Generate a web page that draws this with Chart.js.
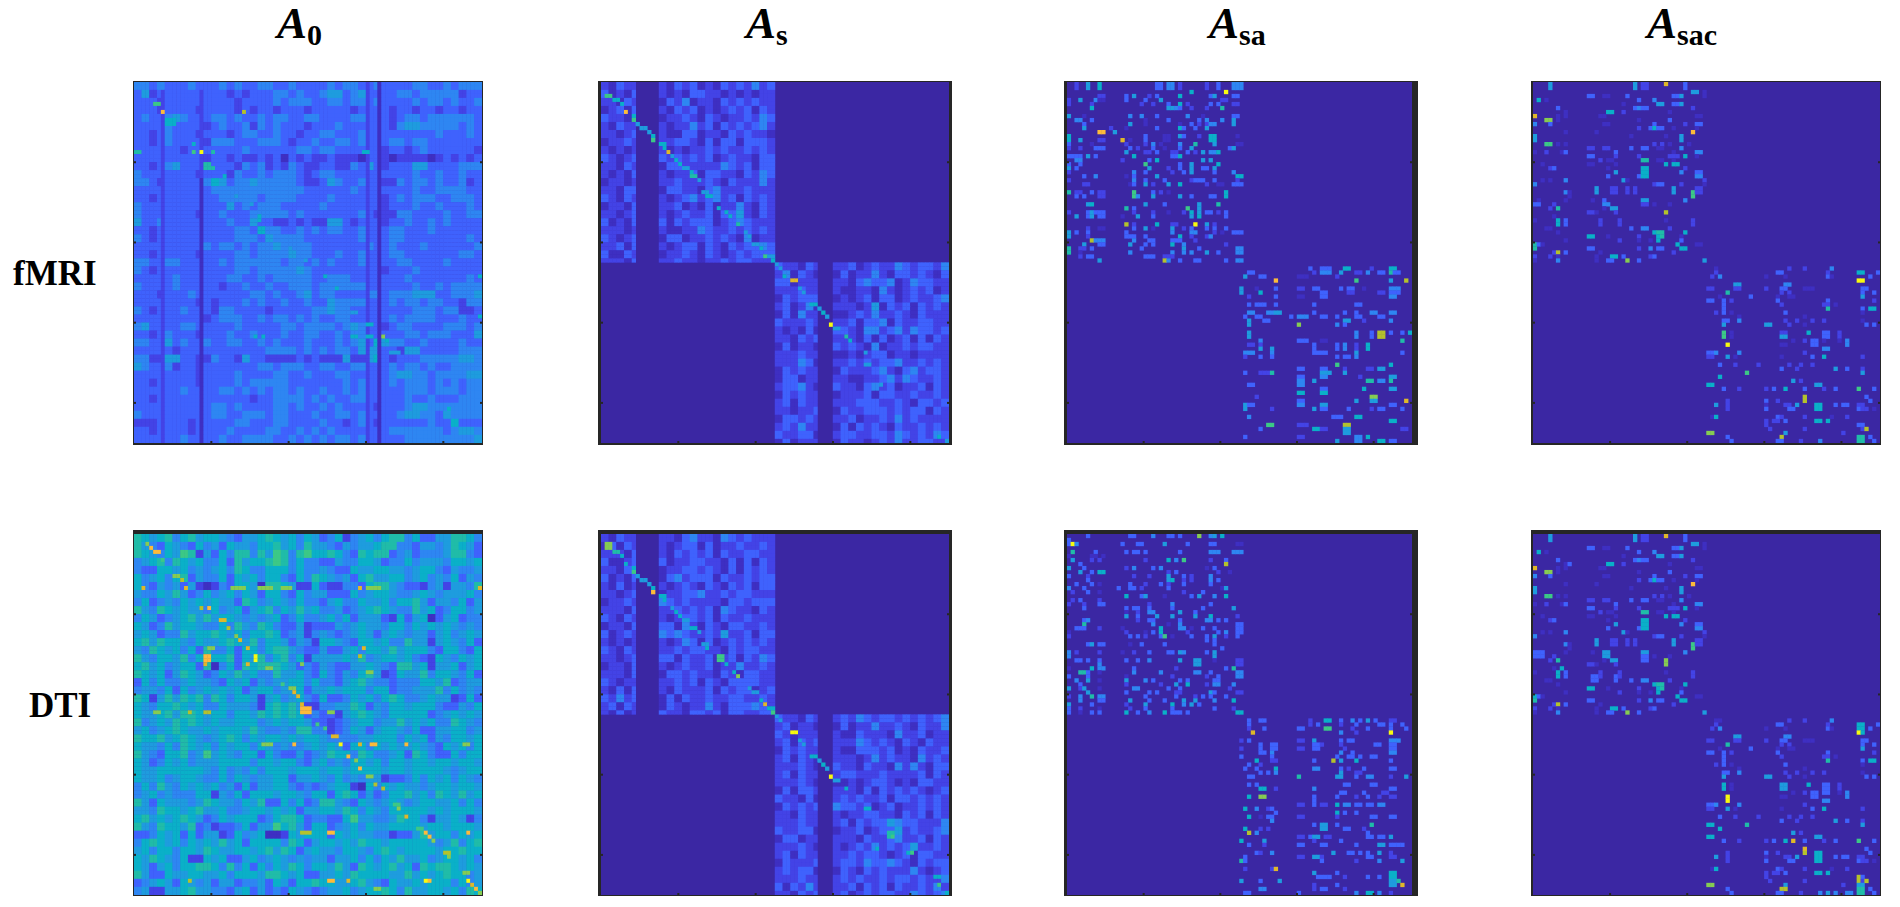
<!DOCTYPE html>
<html>
<head>
<meta charset="utf-8">
<title>Adjacency matrices</title>
<script src="https://cdn.jsdelivr.net/npm/chart.js@4"></script>
<style>
  html, body { margin: 0; background: #fff; }
  body { position: relative; width: 1900px; height: 907px; overflow: hidden; font-family: "Liberation Serif", serif; color: #000; }
  .panel { position: absolute; }
  .panel canvas { display: block; }
  .title { position: absolute; top: 1px; font-size: 45px; line-height: 45px; font-weight: bold; font-style: italic; white-space: nowrap; }
  .title span { font-size: 30px; font-style: normal; position: relative; top: 7px; }
  .side { position: absolute; font-size: 35px; line-height: 35px; font-weight: bold; white-space: nowrap; }
</style>
</head>
<body>
<div class="title" style="left:277px">A<span>0</span></div>
<div class="title" style="left:746px">A<span>s</span></div>
<div class="title" style="left:1209px">A<span>sa</span></div>
<div class="title" style="left:1647px">A<span>sac</span></div>
<div class="side" style="left:13px;top:256px">fMRI</div>
<div class="side" style="left:29px;top:688px">DTI</div>
<script>
// colour levels, 0 = empty cell, d = hottest
const levelColors = ['#3b27a3', '#3e2fc2', '#4343e6', '#3f62fd', '#2e86f2', '#1e9cde', '#0ab0c8', '#20bca8',
  '#3cc886', '#86cc52', '#b4c22c', '#dfb82a', '#fdbb3a', '#f8fa10'];
const matrixSize = 90;
const tickValues = [20, 40, 60, 80];

// A0, fMRI: whole matrix, two cells per character
const a0FmriRows = [
  "44343 33433 34343 34433 43333 43443 34333 34433 43444",
  "35233 33333 33232 33344 34334 55345 33334 43444 44233",
  "33323 33333 33323 33343 44433 44344 34333 34344 34334",
  "33323 33323 33323 23323 33233 33323 33323 32332 33233",
  "34334 54333 44343 34344 33443 33344 33323 44344 44443",
  "33334 33332 34334 24343 33233 34333 33324 55444 44343",
  "33234 33323 33234 43343 32334 43334 33333 33334 33343",
  "33234 33332 44433 34443 23343 34434 33344 34433 33333",
  "33333 32333 33334 33333 34434 43333 33233 23433 33332",
  "33333 33332 33232 23231 32322 32221 33212 22212 32323",
  "33234 53337 33324 34232 43223 32243 53233 35533 33444",
  "43333 33323 33243 34344 43234 43333 33333 34334 33433",
  "44323 33334 65344 54444 43223 54334 33224 34434 33423",
  "33333 33333 44444 44444 44333 33343 33333 34334 44433",
  "33233 33333 34444 43444 43333 43333 33234 34443 34443",
  "43333 33333 33534 34443 33334 33333 33233 34334 33343",
  "43333 33323 34333 44444 34333 33334 32224 43333 43344",
  "53343 33333 33433 53322 32322 55323 33233 43343 43333",
  "33233 33333 33344 36443 34343 44334 33344 33343 33333",
  "43233 33333 33344 43544 44333 33334 33344 33333 33343",
  "33333 33334 34434 34454 44433 33333 43343 33433 33334",
  "33233 33323 33344 34444 54433 34334 33344 33333 33443",
  "44334 43333 34344 44443 44343 43334 33334 43333 43333",
  "43233 33333 33344 34444 45433 33333 33233 34333 33333",
  "33333 43333 33443 34344 44433 44433 33333 43333 33343",
  "43333 43333 32334 33433 44434 44444 33333 34334 34444",
  "33323 33433 33333 44343 34534 43333 44344 45553 34445",
  "33333 33323 23334 34334 33433 54444 33343 44344 33244",
  "43233 34333 24433 33233 33344 54433 33333 34443 44223",
  "33333 33332 34443 34344 34343 34433 33343 44443 33433",
  "45333 34433 33343 33334 43444 43454 33234 43333 44434",
  "33234 33323 33433 43334 33443 34344 33333 44344 43335",
  "44335 34334 33443 34343 33433 34345 36544 33433 33433",
  "33333 23333 33333 33444 43434 34435 55332 55333 33444",
  "44225 53322 43325 33222 23232 22522 56323 33444 44554",
  "54334 23323 33333 34434 44334 43344 33343 44343 34444",
  "33333 33323 33343 33344 33433 34433 33345 54434 44455",
  "33233 33323 33343 44444 33333 33434 33343 44434 34344",
  "33333 34333 34434 34344 34334 33434 33333 44434 44344",
  "33233 33333 33333 23344 44343 43344 33333 43343 33444",
  "33333 33333 44343 33344 34334 34333 32333 45544 44444",
  "43333 33333 44334 44344 33343 34434 33334 55443 54444",
  "22233 33233 33344 33344 33334 33234 32333 33343 36333",
  "33233 33233 33433 33443 34343 43333 33344 44444 34554",
  "33333 34333 34334 44433 43434 34434 33333 44444 44445"
];
// [row, col, level, rows, cols] picked out of the matrix, the long dark columns come first
const a0FmriCells = [[2,7,2,88,1],[24,17,1,66,1],[2,17,2,22,1],[0,63,1,90,1],[0,60,2,90,1],
  [17,17,13],[17,15,8],[17,0,7,1,2],[17,20,7],[17,59,6,1,2],[7,7,12],[7,28,10],[9,8,6,2,3],[5,5,8,1,2],
  [15,15,6],[23,23,6],[21,20,7],[60,60,6,1,2],[63,64,9],[64,65,6],[51,52,6],[81,81,6],[67,66,5,1,3],[48,49,6],[57,56,5,1,2],
  [48,89,6],[58,89,6],[63,31,6],[63,33,6],[63,56,6,1,2],[63,60,6,1,2],[33,32,6],[34,32,6],[28,26,5],[30,30,5],[41,40,5],[44,44,5]];

// A0, DTI
const a0DtiRows = [
  "76567 46756 65435 56765 64653 46245 64677 46335 57764",
  "75436 54364 53655 46675 64755 43545 56774 43554 57653",
  "76546 58725 36477 47587 47866 76437 67734 53444 57743",
  "45674 76564 46375 66787 46443 35446 65344 64555 46656",
  "43366 56454 56476 44666 46445 43365 56655 45664 35445",
  "64564 67354 46365 64664 36476 54536 75566 45645 46354",
  "64354 53521 24366 51776 52263 22443 67754 33245 25547",
  "54465 75346 45646 53664 36455 33364 56654 45654 55564",
  "46345 46565 65537 64565 46443 56446 55646 67535 54635",
  "75476 56554 64563 56746 57564 45345 67654 47563 46645",
  "46534 56757 56654 54563 46445 64635 55326 35613 56344",
  "65347 56654 46475 47643 35233 35456 55466 46565 65454",
  "56534 47566 76564 66763 45245 43456 53565 45535 64565",
  "67576 65465 56765 74665 35426 65436 65644 75525 65463",
  "54765 64637 44636 64677 54335 33564 66575 66643 66436",
  "75466 57463 66736 57467 46255 55657 45665 64326 54656",
  "67564 56637 14637 67776 53435 43355 65437 75625 56356",
  "76563 57653 46575 64475 56436 43546 75236 55746 65463",
  "36464 45655 43656 35455 66464 43567 54434 44665 73455",
  "45546 36456 56563 56645 56355 65666 46634 45557 46454",
  "76257 57674 76466 52564 56436 33465 64676 44565 52363",
  "65466 76564 46555 42676 75224 45576 35466 56664 33546",
  "65567 57765 66466 57676 76343 32567 65466 66634 56565",
  "74565 76765 65566 64565 66533 23456 64557 56564 47654",
  "56456 76556 56665 75445 47744 23465 35665 46335 56645",
  "76675 67654 56764 65665 65665 44445 56664 65635 46656",
  "65546 47656 46566 46545 44565 65366 46565 56543 65646",
  "75436 67458 56546 63643 35345 76647 64456 37643 36466",
  "65346 56455 56666 46656 64356 45466 56466 56656 65665",
  "65566 66665 46454 64666 56665 66566 66566 56666 54566",
  "65564 56654 46465 45566 35565 46454 55233 46465 64654",
  "46475 46565 64536 35566 43434 56621 64656 55456 65665",
  "45645 44466 25463 66656 65466 36763 53466 75647 65756",
  "75365 55457 65546 57336 46347 75436 54565 45665 56464",
  "55476 65675 56445 66565 63556 65764 65466 66656 56665",
  "67565 67653 46566 63467 76344 33685 54457 66425 56524",
  "75476 65734 23346 35586 75366 34564 65566 66566 56665",
  "33465 63635 52364 56112 65666 36565 54423 35756 64656",
  "46765 64656 57563 66664 76356 65657 66566 66654 57467",
  "56466 46657 65566 56757 63565 54665 46765 66665 66766",
  "65765 46226 56335 64565 45455 35564 64657 55645 66564",
  "65356 46677 64746 36465 76466 57537 65675 63767 76565",
  "75336 55665 56466 65776 56335 56576 66655 75656 76645",
  "34565 36545 35534 45365 36676 65567 54365 56566 64645",
  "45225 56755 44356 35343 65434 55645 66764 75566 56476"
];
const a0DtiCells = [[3,4,12],[4,5,12,1,2],[2,3,9],[6,7,8],[10,10,9,1,2],[11,12,10],[13,2,11],[13,13,11],[13,25,9,1,4],[13,32,9,1,4],[13,38,9,1,3],[13,58,11],[13,60,9,1,4],[13,89,11],
  [18,17,10],[18,19,12],[21,22,11,1,2],[23,24,10],[25,26,9],[26,27,11],[28,29,11],[28,19,9,1,2],[30,18,12,2,2],[32,18,11],[32,29,11],[30,31,13,2,1],[28,59,11],[30,58,10],[32,43,9],[33,34,9,1,2],[34,60,9,1,2],
  [37,38,8],[38,40,9,1,2],[39,41,11],[40,42,11],[42,43,11],[43,43,12,2,3],[44,50,9,1,2],[44,5,9,1,2],[44,14,10],[44,18,10,1,2],[47,47,8],[48,49,8],[50,51,11,1,2],[52,53,13],[52,41,12],[52,33,9,1,3],[52,58,11],[52,61,12,1,2],[52,70,12],[52,85,9,1,2],
  [55,55,12],[56,57,9],[58,58,12],[60,60,9,1,2],[62,62,10],[63,64,10],[67,67,8,1,2],[68,68,9],[70,70,11],[73,73,8,1,2],[74,75,12],[75,76,12],[74,43,10,1,3],[74,50,12,1,2],[74,86,12],[76,77,9],[79,80,10,1,2],[80,81,9],[84,85,9,1,2],
  [86,50,12,1,2],[86,75,13],[86,76,12],[86,86,13],[87,87,11],[88,88,12],[89,89,9],[86,14,10],[86,55,11],[88,62,9,1,2]];

// As, fMRI: the four dense pieces of the two blocks
const asFmriTL = ["21322","31213","22132","12313","32212","21322","22123","12232","21212","32123","22132","21213","12212","22133","32132","12213","22123","31213","22212","32123","22313","31132","22213"];
const asFmriTR = ["21323 12132 32423","21213 32212 12122","13241 22132 32322","21323 12123 23132","12232 13212 23243","21224 23132 32342","21133 12213 23221","22332 13133 13332","21212 23232 23232","32323 23123 22133","13322 22243 23133","21223 13322 13243","22322 23213 22242","13322 13422 23222","21234 23423 13232","22312 13122 42132","21232 23133 52132","31323 33123 43222","21122 43223 23232","13312 23232 14122","21233 13213 23343","12232 13212 32333","22322 12232 33222"];
const asFmriBL = ["32213 2","24132 1","33122 2","22232 2","13233 3","23124 1","13142 2","32223 2","21213 1","22132 3","13122 1","22232 2","22243 1","13232 2","13312 2","23342 1","13232 2","23132 2","22122 3","13323 2","23242 2","32233 1","13122 2"];
const asFmriBR = ["22312 32243 23324","13122 42133 23213","22134 33412 43322","21122 14212 32312","12123 13312 32234","22212 51323 13232","11232 42232 13222","22313 34132 23322","33214 42342 43323","22213 13123 13132","32321 41223 23322","11212 33122 12222","22323 23342 23232","13222 34213 42332","22112 23424 32232","32213 42312 23132","12223 13322 32232","22233 32232 13323","13223 33232 33132","22312 23242 32222","13132 32132 23232","23322 33243 23243","13221 23242 23322"];
const asFmriCells = [[3,1,8,1,2],[4,3,6,1,2],[5,5,6],[7,6,12],[8,8,6],[9,8,8],[10,9,5],[11,10,5,1,2],[12,12,5],[13,13,6,2,1],[14,13,8],[15,15,6,1,2],[16,16,6],[17,17,11],[18,18,5],[19,19,6],[20,20,6],[21,21,5,1,2],[22,23,6],[23,23,7,1,2],[24,25,5],[27,26,5,1,2],[28,27,6,1,2],[31,30,6],[32,32,6],[33,33,6],[35,35,7],[37,37,5],[38,38,5],[40,39,5,1,2],[41,41,6],[43,42,8],[43,43,5,1,2],[44,44,6],
  [45,45,5],[46,46,5],[48,47,6],[49,49,11,1,2],[51,51,5],[52,52,5],[55,54,6,1,2],[56,56,5],[57,57,6],[58,58,5],[60,59,13],[61,60,5,1,2],[63,63,7],[64,64,6],[67,68,5],[70,68,5,1,2],[75,72,5],[88,87,6],[89,89,5]];

// As, DTI
const asDtiTL = ["21322","13132","22213","31123","22132","31213","21312","22123","12232","22213","32132","12213","31232","21212","32132","22123","12213","22213","32122","21313","32423","23132","21312"];
const asDtiTR = ["22134 22143 23222","21233 13122 32232","21323 23132 23322","31223 32213 13132","12233 23213 13232","13423 33132 23233","21232 13213 23133","12233 42232 33222","43232 22213 32333","22323 23143 22132","21233 23132 23222","33142 13213 32232","43432 23252 23133","21243 13123 23232","22323 32213 23322","33132 23123 13243","21232 23122 42232","13323 22132 13322","22323 13213 33322","21322 23132 33123","13132 23223 32232","13212 24213 33432","32213 32313 32233"];
const asDtiBL = ["32213 2","23122 1","32122 2","23132 3","13232 2","23132 1","22232 1","23132 2","22232 1","13133 2","32213 1","13232 3","22132 2","22232 2","32233 1","13312 2","22232 1","23132 2","13222 3","23233 1","22232 2","31324 2","22132 3"];
const asDtiBR = ["23243 23323 23234","13122 42232 13224","21132 22142 23122","22243 23213 21322","21133 32312 13223","22212 42322 14232","32213 22142 42133","23322 23222 23132","11212 33212 13322","22213 13232 32123","23232 23133 23232","43323 12312 23232","21223 32213 23132","23132 33543 32224","12231 23352 32234","22213 22342 23132","21232 42323 52232","22323 32123 13322","23324 33432 13233","13213 23222 42123","23232 23233 23224","22313 23132 23242","23123 23322 43234"];
const asDtiCells = [[2,1,9,2,2],[4,3,7,1,2],[5,5,6],[7,6,6],[8,8,6],[9,8,8],[10,9,5],[11,10,5,1,2],[12,12,5],[13,13,6,2,1],[14,13,12,1,1],[15,15,6,1,2],[16,16,6],[18,18,5],[19,19,6],[20,20,6],[21,21,5,1,2],[23,23,6,1,2],[24,25,5],[27,26,5,1,2],[28,27,6],[30,30,8,2,2],[32,32,6],[34,34,6],[35,35,9],[38,38,5],[39,39,5,1,2],[41,41,6],[42,42,11],[43,43,6,1,2],[44,44,8],
  [45,45,5],[46,46,5],[49,49,13,1,2],[51,51,5],[52,52,5],[55,54,6,1,2],[56,56,5],[57,57,6],[58,58,5],[60,59,13],[61,60,5,1,2],[63,63,6],[68,68,6,1,2],[74,74,7,2,2],[75,75,8],[79,79,6],[78,71,6],[79,80,8],[85,86,6,1,2],[87,87,8],[89,89,6]];

// Asa, fMRI: sparse, [row, col, level, rows, cols]
const asaFmriCells = [[0,2,2,2,1],[0,5,5,2,1],[0,8,6,2,1],[0,23,3,2,2],[0,26,4,2,2],[0,29,2,2,1],[0,36,2,2,1],[0,39,3,2,1],[0,43,4,2,3],[2,41,13],[2,32,6],
  [3,8,2,1,2],[3,15,3],[3,17,5],[3,21,2],[3,23,3],[3,29,6],[3,37,3],[3,38,5],[3,43,3,1,2],[4,0,2],[4,3,5],[4,7,4],[4,8,1,1,2],[4,15,3],[4,20,3],[4,24,5],[4,40,2,1,2],
  [5,0,2],[5,6,2],[5,19,2],[5,22,2],[5,26,3],[5,29,6],[5,31,2],[5,37,3],[5,39,3],[5,43,2,1,2],[6,6,6],[6,26,5,1,2],[6,28,4,1,2],[6,29,3],[6,32,2],[6,36,2],[6,40,7],
  [8,0,5],[8,4,1],[8,16,4],[8,19,4],[8,23,3],[8,31,4],[8,35,1],[8,43,3,1,2],[9,2,4,1,2],[9,6,3],[9,20,1],[9,26,3],[9,34,3],[9,36,4],[9,40,4],[9,43,5,2,1],[10,4,3],[10,16,5],[10,20,1],[10,29,1],[10,32,3],[10,34,2],[10,36,2],[10,37,4,1,2],
  [11,4,5],[11,11,2],[11,15,1],[11,23,3],[11,29,6],[11,30,3],[11,33,3],[11,36,5],[12,8,12,1,2],[12,12,5],[13,0,6,2,1],[13,20,3,2,1],[13,25,1,2,2],[13,29,5],[13,30,3],[13,34,2],[13,37,6,2,2],[13,44,1],
  [14,3,5],[14,8,2,1,2],[14,14,11],[14,16,1],[15,0,3],[15,6,1],[15,15,2],[15,20,2],[15,22,4],[15,24,1],[15,29,4],[15,33,7],[15,38,5],[15,44,1,1,2],[16,0,2],[16,3,2],[16,7,3,1,3],[16,16,3],[16,18,2],[16,22,3],[16,25,1],[16,29,3],[16,32,5],[16,42,3],[16,43,5],
  [17,15,5],[17,20,2,1,2],[17,23,3],[17,27,2,1,2],[17,31,3],[17,33,2],[17,35,5],[17,37,4,1,2],[17,39,6],[18,0,3,1,4],[18,5,5],[18,7,3],[18,17,6],[18,27,3,1,2],[18,29,6],[19,2,4,1,2],[19,14,2],[19,21,3],[19,23,6],[19,35,5],[19,37,5],
  [20,0,3],[20,3,3],[20,20,8],[20,29,3],[20,32,5],[20,39,6],[21,0,5],[21,2,3],[21,21,5],[21,26,2],[21,29,3],[21,32,5],[21,35,3,1,2],[21,38,5],[22,0,2],[22,17,4],[22,20,3],[22,27,2],[22,30,3],[22,32,5],[22,38,3],[22,43,4],
  [23,4,3],[23,7,4],[23,15,1],[23,17,3],[23,23,5],[23,44,6,1,2],[24,0,2],[24,17,4],[24,20,3],[24,25,3],[24,32,2],[24,33,3,1,3],[24,38,3],[24,44,2],[25,4,2,1,2],[25,16,1],[25,17,3],[25,20,5],[25,22,2],[25,26,5],[25,29,6],[25,36,2],[25,39,1,1,2],[25,43,3,1,3],
  [27,0,7],[27,2,2,1,2],[27,6,3],[27,8,2,2,2],[27,17,8,2,1],[27,22,3],[27,24,2],[27,26,1],[27,41,6,2,1],[28,2,3],[28,4,3],[28,18,4],[28,22,5],[28,29,5],[28,32,3],[28,37,3,1,2],
  [30,5,5],[30,6,6],[30,20,5],[30,25,3],[30,34,5],[30,39,7],[31,15,7],[31,17,3],[31,31,8],[31,34,5],[32,0,2],[32,5,3],[32,6,5,2,1],[32,7,3,1,3],[32,17,2],[32,22,2],[32,26,1],[32,30,2],[32,32,6],[32,34,5],[32,36,3,1,2],[32,39,2],[32,41,3,2,1],
  [33,2,5],[33,5,3],[33,8,3,1,2],[33,14,1],[33,18,5],[33,22,3],[33,32,5],[33,34,6],[35,15,10],[35,17,2],[35,23,6],[35,27,2,1,2],[35,33,13],[35,36,5],[35,38,2],[36,5,2],[36,8,1,1,2],[36,17,3],[36,20,5],[36,22,1],[36,27,5],[36,30,2],[36,32,3],[36,36,3],[36,38,3],[36,41,3],
  [37,0,5,2,1],[37,2,3],[37,5,3],[37,15,3,2,1],[37,27,4],[37,32,4,1,2],[37,38,2],[37,40,1],[37,43,3,1,3],[38,5,2],[38,16,3,1,2],[38,20,3],[38,29,6],[38,32,2],[38,36,2],[38,37,4],[39,6,10],[39,7,4],[39,8,4,1,2],[39,17,4],[39,21,3,1,2],[39,27,3,1,3],[39,33,2],
  [40,4,5],[40,8,3,1,2],[40,16,5],[40,20,3],[40,22,3],[40,27,6],[40,30,4],[40,41,2],[41,0,7,2,1],[41,3,2,1,2],[41,6,3],[41,19,3],[41,30,5,2,1],[41,34,3],[41,44,4,2,2],[42,3,1],[42,16,4],[42,27,4],[42,30,4],[42,32,4],[42,36,5],[42,39,3],
  [43,3,2],[43,5,3,1,2],[43,20,3,1,3],[43,25,2,1,3],[44,8,5],[44,25,10],[44,26,4],[44,29,3],[44,33,3,1,2],[44,41,3],[44,44,4,1,2],
  [46,63,3],[46,66,3,1,3],[46,72,6,1,2],[46,79,2],[46,84,6,1,2],[47,47,3,1,2],[47,64,2],[47,66,4,1,3],[47,71,5],[47,75,2,1,2],[47,78,4],[47,81,3,1,2],[47,84,7],[47,85,3,1,2],[48,46,5],[48,50,3,1,2],[48,60,1,1,3],[48,70,2],
  [49,54,12],[49,75,8],[49,84,5],[49,88,10],[51,45,5,2,1],[51,49,1],[51,54,3],[51,60,2,1,2],[51,64,3,1,2],[51,71,3],[51,73,3,1,2],[51,77,1],[51,84,4,1,3],[52,50,6],[52,66,3,1,2],[52,73,2,1,2],[52,81,2,1,2],[52,84,3,1,3],
  [53,47,2],[53,54,3],[53,60,1,1,2],[53,66,3,1,2],[53,84,4,1,2],[55,47,3],[55,49,3,1,3],[55,54,3],[55,64,3],[55,75,3,1,2],[57,47,4,1,2],[57,52,4,1,2],[57,54,5,1,2],[57,64,3],[57,72,3],[57,75,3],[57,79,4,1,2],[57,84,4,1,2],
  [58,46,3],[58,49,3],[58,50,3],[58,58,3],[58,60,4,1,3],[58,66,3,1,2],[58,70,3],[58,75,3,1,2],[58,81,3,1,2],[59,47,5,2,1],[59,51,3,1,2],[59,72,5,1,2],[59,77,2],[59,84,4],[60,60,9],[60,70,4],[60,72,3],
  [62,47,5,2,1],[62,75,4,2,1],[62,79,3,2,1],[62,81,10,2,2],[62,84,3],[62,87,3],[62,89,6],[64,50,4],[64,60,3,1,3],[64,66,1,1,2],[64,87,7],[65,47,2,1,2],[65,50,2],[65,64,3,2,1],[65,70,3,2,1],[65,72,4,2,1],[65,75,2,2,1],[65,78,6,2,1],[66,50,5],[66,53,5],
  [67,46,4,1,3],[67,53,4],[67,64,3,1,2],[67,66,3,1,2],[67,75,5,2,1],[67,87,3],[68,46,2],[68,50,3],[68,53,3],[68,70,3],[68,72,3,1,2],[68,75,4],[70,70,8],[70,84,6],[71,60,3,1,2],[71,66,3,1,2],[71,81,5,1,2],[71,72,2],[71,78,2,1,2],
  [72,46,3],[72,50,2,1,3],[72,53,7],[72,66,5,1,3],[72,72,5],[73,60,3,1,2],[73,66,4,1,2],[73,84,5,1,2],[73,76,2],[74,60,4,2,2],[74,64,5],[74,78,7,1,2],[74,81,4,1,2],[74,84,7],[75,47,3,1,2],[76,66,3,1,2],[76,77,6],[76,84,5,1,2],
  [77,60,6,1,2],[77,66,6,1,2],[78,49,2],[78,79,9,1,2],[79,60,3,1,2],[79,79,5,1,2],[79,75,5],[79,88,11],[80,46,5,2,1],[80,47,3,1,2],[80,60,4,1,2],[80,66,5,1,2],[80,84,3,1,2],[81,53,2],[81,64,5],[81,66,3,1,2],[81,73,3],[81,79,2],[81,81,3,1,2],[81,87,3],
  [83,47,4],[83,69,3,1,3],[83,75,6,1,2],[84,84,6,1,2],[85,52,8,1,2],[85,60,2,1,3],[85,72,10,1,2],[86,50,3],[86,64,6,1,2],[86,66,2,1,2],[86,72,5,2,2],[86,87,2,1,2],[88,46,3],[88,60,2,1,2],[88,75,4,2,2],[88,78,6],[89,81,6,1,2],[89,84,3,1,2],[89,70,5]];

// Asa, DTI
const asaDtiCells = [[0,5,3],[0,16,3,1,2],[0,22,4],[0,26,3,1,2],[0,29,3],[0,34,9],[0,37,4],[0,38,5,1,1],[0,40,6],[1,0,3],[2,1,13],[2,0,3,1,1],[2,2,4],[2,14,3],[2,18,3,1,2],[2,25,5],[2,31,3],[2,37,3,1,2],[2,44,1,1,2],
  [4,1,7],[4,7,3],[4,15,3],[4,17,3,1,2],[4,20,3],[4,29,3],[4,37,4,1,3],[4,43,4,1,3],[5,0,1],[5,6,1,1,2],[5,9,1],[6,1,5],[6,6,2],[6,8,2],[6,20,2],[6,26,6],[6,28,4],[6,30,8],[6,37,2],[6,41,3],
  [7,3,3],[7,41,10],[8,0,5],[8,4,3],[8,15,2],[8,17,4,1,1],[8,22,3],[8,24,4],[8,36,1],[8,38,3],[9,3,5],[9,6,3],[9,8,6,1,2],[9,26,2],[9,28,3],[9,39,2],[9,42,1],
  [10,0,3],[10,5,2],[10,17,2],[10,21,2],[10,26,5,2,1],[10,30,3],[10,32,2],[10,37,4],[11,5,3],[11,27,6],[11,30,2],[11,32,2],[11,37,4],[11,39,3],[12,2,3],[12,6,3],[12,8,1],[12,16,3],[12,20,2],[12,24,3],[12,26,2],[12,30,3],[12,37,3],[13,0,4],[13,4,3],[13,13,3],[13,16,3,1,2],[13,19,2],[13,26,3],[13,40,1],[13,41,5],
  [14,1,2],[14,5,3],[14,8,1],[14,30,2],[14,35,3],[15,15,6],[15,19,3],[15,20,5],[15,25,1],[15,32,3],[15,34,5],[15,38,4],[15,41,6],[16,1,2],[16,3,3],[16,8,2],[17,0,2],[17,4,2],[17,8,3,1,2],[17,21,2],[17,27,4],[17,37,3,1,1],[18,4,3],[18,15,3],[18,17,3,1,2],[18,21,3],
  [18,27,3],[18,35,3],[18,43,5],[19,15,1],[19,18,2],[19,21,4,1,2],[19,29,5],[19,33,3],[20,15,5],[20,18,3],[20,23,5],[20,27,5],[20,33,5],[20,37,6],[20,44,2],[21,4,3],[21,5,4],[21,18,2],[21,21,3,1,2],[21,29,3],[21,36,4,1,2],[21,39,3],[21,41,3],
  [22,4,7],[22,22,4],[22,26,1],[22,29,4],[22,44,3,3,2],[23,2,3,1,3],[23,8,2],[23,14,1],[23,24,6,2,1],[23,29,4,1,2],[23,32,1],[23,35,3],[23,38,3],[24,0,1],[24,15,2],[24,20,1],[24,22,3],[24,31,2],[24,39,3],[24,41,4],[25,0,2],[25,16,3],[25,18,3],[25,20,2],[25,24,3],[25,25,8],[25,27,1],[25,32,3],[25,36,3],[25,38,5],[25,41,2],[25,44,3],[26,36,3],[26,38,3],[27,5,3],[27,6,5],[27,8,3],[27,9,3],[27,16,1],[27,19,3],[27,25,3],[27,38,3],[28,40,3],
  [29,0,4,2,1],[29,2,2],[29,8,2],[29,14,1],[29,17,2],[29,21,3],[29,26,3,1,2],[29,29,5],[29,30,4],[29,36,3],[29,38,5,2,1],[31,2,3,1,2],[31,5,3],[31,8,3],[31,15,3],[31,18,3],[31,21,4],[31,29,5],[31,33,5,2,2],[31,38,1],[31,44,2,2,2],[32,8,4],[33,0,1],[33,6,6],[33,8,4,1,2],[33,17,3],[33,28,2],[33,41,3],[33,43,7],
  [34,3,2],[34,3,7,1,2],[34,5,3],[34,8,1],[34,17,4],[34,24,4],[34,33,4,1,2],[34,37,3],[34,44,4,2,2],[35,0,3],[35,5,3],[35,15,1],[35,27,2],[35,36,2],[35,39,3],[36,2,4],[36,5,5],[36,8,1],[36,15,5],[36,20,4],[36,22,3],[36,29,3],[36,31,3,1,1],[36,38,3,1,2],[37,3,3],[37,15,2],[37,24,2],[37,28,5],[37,31,6],[37,36,2],[37,38,4,1,2],[37,43,4],
  [38,0,5],[38,3,2],[38,4,5],[38,8,1],[38,17,4,1,2],[38,26,3],[38,29,3],[38,42,2],[39,5,5],[39,15,3],[39,21,3],[39,23,3],[39,28,2,1,2],[39,37,5],[39,38,3],[39,44,2,1,2],[40,0,2],[40,3,4],[40,6,7],[40,8,4,1,2],[40,20,3],[40,28,3],[40,33,2],[40,35,3],[40,37,3],[40,41,3],
  [41,3,4],[41,8,3,1,2],[41,16,5],[41,21,3],[41,25,3],[41,30,5],[41,33,5],[41,38,4],[41,43,6],[42,0,5,2,1],[42,6,3],[42,15,2],[42,20,5],[42,27,6],[42,30,4,1,1],[42,32,5],[42,34,3],[43,0,3],[43,3,2],[43,8,1],[43,16,2],[43,20,3],[43,27,3],[43,38,3],[43,43,2],[44,0,3],[44,3,1],[44,6,3],[44,8,3],[44,15,6],[44,18,3],[44,21,4],[44,25,6],[44,27,3,1,2],[44,29,3],[44,31,3],[44,44,6,1,2],
  [46,47,3],[46,50,3,1,2],[46,63,2],[46,67,6,1,2],[46,71,3],[46,74,4],[46,76,3],[46,78,5],[46,80,3],[46,84,2,1,2],[47,47,3],[47,63,2],[47,65,3],[47,71,2],[47,75,3],[47,81,3,1,2],[47,84,7],[47,84,3],[47,87,3],[48,47,2],[48,51,3],[48,60,3,1,2],[48,67,8,1,2],[48,74,2],[48,78,3],[48,84,3],[48,88,3],
  [49,48,11,1,1],[49,71,4],[49,75,2],[49,84,13],[51,45,2],[51,47,3],[51,60,2,1,2],[51,64,5],[51,71,3],[51,73,3,1,2],[51,84,4,1,3],[52,50,3],[52,53,3,2,2],[52,64,3,2,2],[52,66,2],[52,71,2],[52,80,3,1,2],[52,84,3,2,2],[53,45,2],[53,50,3],[53,60,2,1,2],[53,72,2],[54,50,3,1,2],[54,53,4],[54,71,4],[54,74,3],[54,84,4,1,2],
  [55,45,3],[55,53,3],[55,70,3],[55,73,3,1,2],[55,76,3],[55,79,3,1,2],[56,49,6],[56,53,2,1,2],[56,64,3],[56,69,10,1,1],[56,71,5],[56,75,6],[56,84,3],[57,47,3],[57,50,2],[58,46,3],[58,49,3],[58,54,6],[58,64,4,1,2],[58,71,3],[58,73,2],[58,77,3],[58,84,3,1,2],[59,50,3],[59,52,3],[59,54,4],[59,71,5],[59,75,2,1,2],[60,47,3,1,2],[60,60,7],[60,70,5,1,2],[60,75,3],[60,78,4,1,2],[60,84,2],[60,88,5],
  [62,47,3,1,1],[62,49,3],[62,72,3,1,2],[62,79,3,1,2],[63,50,6,1,2],[63,54,2],[63,64,4],[63,84,3,1,2],[64,71,3],[64,72,3],[64,77,3,1,1],[64,82,2,1,2],[65,47,6],[65,50,9,1,2],[65,64,3,2,1],[65,70,3],[65,75,2],[65,78,3],[65,81,2],[65,84,2,1,2],[67,60,2,1,2],[67,64,3],[67,66,2,1,2],[67,70,6],[67,72,4,1,2],[67,75,3,1,2],[67,78,3,1,2],[67,81,4,1,2],
  [68,46,6],[68,49,4],[68,53,3],[68,52,2],[69,54,3],[69,70,6],[69,72,3],[69,75,3],[70,47,6],[70,50,1],[70,52,3,1,2],[70,60,2,1,2],[70,70,2],[70,79,3,1,2],[70,84,3,1,2],[71,53,4],[72,64,3],[72,66,5,2,2],[72,70,3],[72,79,7],[73,46,6],[73,50,2],[73,52,2],[73,72,3,1,2],[73,77,2],[74,47,10],[74,49,4],[74,78,3],[75,60,2,1,2],[75,63,3],[75,64,5,1,2],[75,67,2,1,2],[75,78,3,1,2],[75,81,3,1,2],[75,84,5],
  [76,45,6],[76,51,5],[76,64,2],[76,71,3],[77,47,3],[77,51,2],[77,60,3,1,2],[77,66,3,1,2],[77,75,3],[77,81,5,1,2],[77,84,3,1,4],[79,49,3],[79,50,2],[79,53,4],[79,69,5],[79,73,3,1,2],[79,76,3],[79,78,3],[79,81,5],[79,84,2],[80,46,3],[80,60,2,1,2],[80,64,5,1,2],[80,66,2],[80,78,3,1,2],[80,84,2,1,2],[81,45,7],[81,46,3],[81,66,3],[81,75,2],[81,81,4],[81,87,5],
  [83,46,2],[83,53,2],[83,54,11],[84,64,5],[84,70,3],[84,84,6,2,2],[85,65,3],[85,66,3,1,3],[85,72,2],[85,78,3],[85,81,3],[86,45,5],[86,50,3],[86,55,5],[86,84,5,2,2],[86,86,7],[87,87,11],[87,64,2],[87,70,3],[88,50,4,1,2],[88,64,2],[88,66,3,1,2],[88,72,2],[89,47,3],[89,60,3],[89,75,4],[89,78,6],[89,79,6,1,1],[89,81,4],[89,84,2],[89,46,3]];

// Asac, fMRI
const asacFmriCells = [[0,4,5,2,1],[0,26,5,2,1],[0,28,2,2,2],[0,34,11],[0,39,3,2,1],[2,41,5,1,2],[2,44,1],[3,14,3,1,2],[3,18,1,1,2],[3,24,3],[3,36,3,1,2],[3,38,5],[3,44,1],
  [4,1,6],[4,3,1],[4,27,3],[4,31,4],[5,32,5,1,2],[5,36,3,1,2],[5,38,5],[5,23,1],[6,6,3],[6,27,4],[6,26,3],[6,28,3,1,2],[6,41,2],[7,8,1],[7,19,6,1,2],[7,23,2],[7,35,1],
  [8,0,11],[8,6,1],[8,8,1],[8,17,1,1,2],[8,42,1,1,2],[9,3,9,1,2],[9,6,1],[9,27,1],[9,35,3],[10,0,4],[10,4,3],[10,18,1,1,2],[10,31,3],[10,39,2],[10,42,3,1,2],[11,27,2],[11,30,3],[11,31,6],[11,32,3,1,2],[11,36,1],[11,42,1],[12,8,1],[12,16,1],[12,41,12],
  [13,0,5,2,1],[13,25,1],[13,34,1],[13,38,5,2,1],[15,3,8,1,2],[15,6,1],[15,8,1],[15,31,2],[15,33,2],[15,35,1],[15,40,1],[16,14,2,1,2],[16,18,2,1,2],[16,25,3],[16,28,3,1,2],[16,32,1,1,2],[16,38,4],[17,0,1],[17,3,2],[17,7,1],[17,8,3],[17,21,3],[17,36,1],[17,42,4,1,2],
  [18,14,3,1,2],[18,21,2],[18,27,2],[18,35,2,1,3],[18,39,6],[18,42,1],[19,17,2],[19,19,1,1,2],[19,28,7,1,2],[19,32,1,1,2],[19,36,1],[20,2,1],[20,14,1,1,2],[20,21,1],[20,34,6],[20,36,6,1,2],
  [21,4,2],[21,5,3],[21,19,1],[21,28,6,2,2],[21,39,2],[22,21,5],[22,38,4],[22,42,3,1,2],[23,19,3],[23,27,3],[23,28,6,1,2],[23,42,4,1,2],[24,2,1],[24,4,1],[24,8,4],[24,23,5],[24,24,1],[24,44,2],[25,0,4],[25,31,2],[25,32,3,1,2],[25,38,2],[25,44,1],
  [26,16,5,2,1],[26,20,2,2,2],[26,24,2,2,1],[26,26,2,2,1],[26,36,5,2,1],[26,42,2,2,2],[27,8,4],[27,9,1,2,1],[27,41,8,2,1],[29,1,1],[29,8,1],[29,15,1],[29,18,3],[29,28,5,1,2],[29,39,4],[30,0,3],[30,1,3],[30,5,2],[30,18,4,1,2],[30,28,2,1,2],[30,31,1],[30,35,1],
  [31,4,2],[31,6,7,1,1],[31,18,1],[31,20,5,1,2],[32,14,2,1,2],[32,16,1],[32,21,2],[32,34,10],[33,5,1],[34,0,1],[34,6,6,2,1],[34,8,3,2,1],[34,17,2,2,1],[34,22,2,2,1],[34,34,1],[34,41,2,2,1],[36,3,1,1,2],[36,25,3],[36,28,4,1,2],[36,35,2],[37,6,1],[37,31,6],[37,39,6,1,1],[37,32,7,2,2],
  [38,14,6,1,2],[38,19,1],[38,27,2],[38,32,6,2,1],[38,38,1],[39,8,1],[39,22,2],[39,27,1],[39,30,1],[39,38,3],[40,0,7,2,1],[40,1,3],[40,2,1],[40,37,6],[40,42,1,1,2],[41,33,2,1,1],[41,14,3,1,2],[41,27,2],[41,30,4],[41,32,3,1,2],[41,38,6,1,2],
  [42,5,2],[42,6,10],[42,8,3],[42,17,1],[42,36,2],[43,0,2],[43,6,1],[44,0,1],[44,6,4],[43,4,2],[43,16,1],[43,20,6,1,2],[43,23,3],[43,30,2],[43,31,3],[44,16,1],[44,24,9],[44,19,3,1,2],[44,27,3],[44,44,5],
  [46,47,1],[46,66,2],[46,70,2],[46,77,4],[47,47,2],[47,63,3,1,2],[47,76,2],[47,84,6,1,2],[47,89,3],[48,46,2],[48,48,4],[48,60,1],[48,65,1],[48,76,3],[48,77,1],[48,87,3],[49,84,13,1,2],[50,52,5,1,2],[50,65,4,1,2],
  [51,45,2,1,2],[51,52,2,1,2],[51,60,2],[51,64,3,1,2],[51,70,1,1,3],[51,85,3,1,2],[52,50,7,1,1],[52,64,2,1,1],[52,66,2],[52,85,3],[52,88,3],[53,48,1],[53,56,3],[53,63,1],[53,66,1,1,2],[53,85,5],[54,45,3,1,2],[54,49,3],[54,51,2],[54,63,3],[54,76,3],[54,88,2],
  [55,49,3],[55,64,2],[55,75,2,1,2],[55,78,1],[56,49,3],[56,76,7],[56,85,3],[56,87,6,1,2],[57,47,2],[57,49,3],[57,51,1],[57,65,3],[57,85,1],[58,53,1],[58,70,1],[59,49,3],[59,50,3],[59,53,4],[59,65,2],[59,72,2],[59,75,2],[59,68,2],[59,85,1],
  [60,60,5,1,2],[60,49,5],[60,66,2],[60,70,1],[60,86,3],[60,88,3],[62,49,8,2,1],[62,51,1],[62,64,2,2,2],[62,71,6],[62,75,3,2,2],[62,79,2,2,1],[63,51,6],[63,64,5,1,2],[63,51,1],[64,67,1],[64,70,2],[64,72,3,2,2],[64,75,1],[64,79,1],[64,81,4,2,1],
  [65,50,13],[65,64,1,1,2],[66,75,4,1,2],[67,45,3,2,2],[67,47,4],[67,53,4],[67,70,2],[68,45,2,1,2],[68,50,5],[68,52,1],[68,64,1],[68,72,3],[68,75,6],[68,85,2],[70,48,3],[70,58,2],[70,52,2],[70,66,2],[70,69,2],[70,72,2],[71,64,3],[71,68,2],[71,78,5],[71,81,3],[71,85,2],
  [72,55,8],[72,85,5],[73,48,6],[74,67,5],[74,69,2],[75,45,6,1,2],[75,73,5,1,2],[76,49,3],[76,53,2],[76,60,2],[76,62,3],[76,65,6],[76,70,3],[76,75,2],[76,78,3],[76,84,8],[76,88,3],
  [78,70,10,2,1],[78,86,3],[79,50,2],[79,60,3],[79,63,2],[79,87,3],[80,47,5],[80,50,2,2,1],[80,60,1],[80,65,2,1,2],[80,68,5],[80,73,6,2,2],[80,78,3],[80,80,3,1,2],[80,84,2,2,2],[81,60,3],[81,66,3,1,2],[81,84,3],[81,86,2],[81,88,1],
  [83,46,1,1,2],[83,47,6],[83,64,2],[83,63,3],[83,70,2],[83,77,1],[83,81,2],[84,60,2],[84,62,2,1,2],[84,65,3],[84,73,6,1,2],[84,76,6],[85,60,2],[85,84,3,1,2],[86,61,2],[86,70,2],[86,86,10],[86,85,2],[87,45,9,1,2],[87,65,5],[87,80,2],[88,50,3],[88,64,10,1,1],
  [89,51,3],[89,63,3],[89,64,3],[89,69,2],[89,74,4],[89,84,2],[89,88,3],[88,84,7,2,2],[88,87,3]];

// Asac, DTI shares most of its cells with fMRI, these ones differ
const asacDtiExtra = [[1,4,5],[2,44,1],[7,9,3],[8,0,11],[9,3,9],[31,34,9,2,1],[40,0,6],[29,0,3],[29,1,3,2,2],[29,18,5,2,2],[30,28,3,2,2],[33,7,6],[35,15,3,2,2],[35,21,3,2,1],[46,48,1],
  [48,84,6,2,2],[49,84,13],[62,49,6,2,1],[62,64,5,2,2],[63,75,3,2,2],[65,50,13,2,1],[72,55,7],[72,45,6,1,2],[76,67,11],[78,70,11],[79,73,6,2,2],[85,84,10,2,1],[87,84,5,1,2],[87,45,9],[88,65,10],[89,76,5],[89,78,4],[89,81,4,1,2]];

const panelBoxes = [
  { left: 133, top: 81, right: 483, bottom: 445, border: [1, 1, 2, 1] },
  { left: 598, top: 81, right: 952, bottom: 445, border: [1, 3, 2, 3] },
  { left: 1064, top: 81, right: 1418, bottom: 445, border: [1, 6, 2, 3] },
  { left: 1531, top: 81, right: 1881, bottom: 445, border: [1, 1, 2, 2] },
  { left: 133, top: 530, right: 483, bottom: 896, border: [4, 1, 1, 1] },
  { left: 598, top: 530, right: 952, bottom: 896, border: [4, 3, 1, 3] },
  { left: 1064, top: 530, right: 1418, bottom: 896, border: [4, 6, 1, 3] },
  { left: 1531, top: 530, right: 1881, bottom: 896, border: [4, 1, 1, 2] }
];

const full = [0, matrixSize, 0, matrixSize];
const panels = [
  { grids: [[a0FmriRows, ...full]], cells: a0FmriCells },
  { grids: [[asFmriTL, 0, 45, 0, 9], [asFmriTR, 0, 45, 15, 45], [asFmriBL, 45, 90, 45, 56], [asFmriBR, 45, 90, 60, 90]], cells: asFmriCells },
  { grids: [], cells: asaFmriCells },
  { grids: [], cells: asacFmriCells },
  { grids: [[a0DtiRows, ...full]], cells: a0DtiCells },
  { grids: [[asDtiTL, 0, 45, 0, 9], [asDtiTR, 0, 45, 15, 45], [asDtiBL, 45, 90, 45, 56], [asDtiBR, 45, 90, 60, 90]], cells: asDtiCells },
  { grids: [], cells: asaDtiCells },
  { grids: [], cells: asacFmriCells.concat(asacDtiExtra) }
];

function buildMatrix(panel) {
  const m = [];
  for (let r = 0; r < matrixSize; r++) m.push(new Array(matrixSize).fill(0));
  panel.grids.forEach(([rows, r0, r1, c0, c1]) => {
    const clean = rows.map(s => s.replace(/ /g, ''));
    for (let r = r0; r < r1; r++) {
      const line = clean[Math.floor((r - r0) * clean.length / (r1 - r0))];
      for (let c = c0; c < c1; c++) {
        const ch = line[Math.floor((c - c0) * line.length / (c1 - c0))];
        if (ch !== undefined) m[r][c] = parseInt(ch, 16);
      }
    }
  });
  panel.cells.forEach(([r, c, level, h = 1, w = 1]) => {
    for (let i = r; i < r + h && i < matrixSize; i++) {
      for (let j = c; j < c + w && j < matrixSize; j++) m[i][j] = level;
    }
  });
  return m;
}

// empty background under the cells, axes box and small ticks on top of them
const frame = {
  id: 'frame',
  beforeDatasetsDraw(chart) {
    const a = chart.chartArea;
    chart.ctx.fillStyle = levelColors[0];
    chart.ctx.fillRect(a.left, a.top, a.right - a.left, a.bottom - a.top);
  },
  afterDraw(chart) {
    const ctx = chart.ctx, a = chart.chartArea, w = chart.width, h = chart.height;
    ctx.fillStyle = '#262626';
    ctx.fillRect(0, 0, w, a.top);
    ctx.fillRect(0, a.bottom, w, h - a.bottom);
    ctx.fillRect(0, 0, a.left, h);
    ctx.fillRect(a.right, 0, w - a.right, h);
    tickValues.forEach(t => {
      const x = chart.scales.x.getPixelForValue(t), y = chart.scales.y.getPixelForValue(t);
      ctx.fillRect(x - 1, a.bottom - 2, 2, 2);
      ctx.fillRect(a.left, y - 1, 2, 2);
      ctx.fillRect(a.right - 2, y - 1, 2, 2);
    });
  }
};

panels.forEach((panel, i) => {
  const box = panelBoxes[i];
  const width = box.right - box.left, height = box.bottom - box.top;
  const [bt, br, bb, bl] = box.border;
  const wrap = document.createElement('div');
  wrap.className = 'panel';
  wrap.style.cssText = `left:${box.left}px;top:${box.top}px;width:${width}px;height:${height}px`;
  const canvas = document.createElement('canvas');
  canvas.width = width;
  canvas.height = height;
  wrap.appendChild(canvas);
  document.body.appendChild(wrap);

  const m = buildMatrix(panel);
  const points = [], colors = [];
  m.forEach((row, r) => row.forEach((level, c) => {
    if (level > 0) {
      points.push({ x: c + 0.5, y: r + 0.5 });
      colors.push(levelColors[level]);
    }
  }));
  const side = Math.max((width - bl - br) / matrixSize, (height - bt - bb) / matrixSize) + 0.3;

  new Chart(canvas, {
    type: 'scatter',
    data: {
      datasets: [{
        data: points,
        pointStyle: 'rect',
        pointRadius: side / Math.SQRT2,
        pointBorderWidth: 0,
        pointBackgroundColor: colors
      }]
    },
    options: {
      responsive: false,
      animation: false,
      events: [],
      layout: { autoPadding: false, padding: { top: bt, right: br, bottom: bb, left: bl } },
      plugins: { legend: { display: false }, tooltip: { enabled: false } },
      scales: {
        x: { type: 'linear', min: 0, max: matrixSize, display: false },
        y: { type: 'linear', min: 0, max: matrixSize, reverse: true, display: false }
      }
    },
    plugins: [frame]
  });
});
</script>
</body>
</html>
